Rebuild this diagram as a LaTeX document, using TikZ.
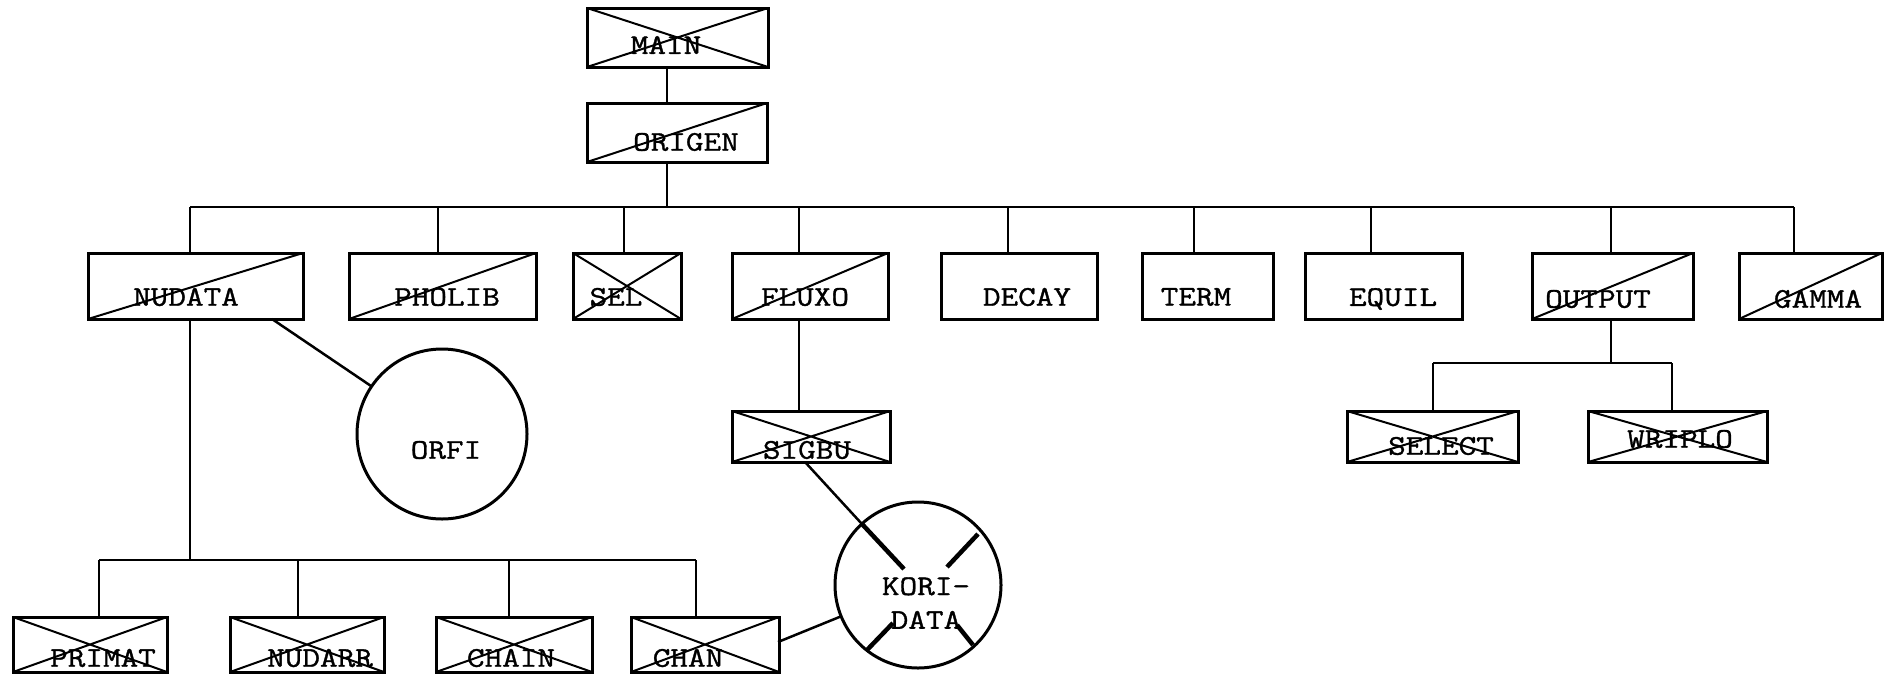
\documentclass[tikz,border=0pt]{standalone}
\usepackage{fontspec}
\usetikzlibrary{calc}
\newfontfamily\tw[FakeStretch=1.2,FakeBold=1.2]{Latin Modern Mono}
\begin{document}
\begin{tikzpicture}[x=0.4pt,y=-0.4pt,
  box/.style 2 args={draw, line width=1.2pt, minimum width=#1*0.4pt, minimum height=#2*0.4pt, inner sep=0pt, outer sep=0pt},
  one/.style={path picture={\draw[line width=0.8pt] (path picture bounding box.south west) -- (path picture bounding box.north east);}},
  cross/.style={path picture={\draw[line width=0.8pt] (path picture bounding box.south west) -- (path picture bounding box.north east) (path picture bounding box.north west) -- (path picture bounding box.south east);}},
  circ/.style={circle, draw, line width=1.2pt, minimum size=#1*0.4pt, inner sep=0pt, outer sep=0pt},
  lbl/.style={font=\tw\fontsize{11.4}{13.5}\selectfont, inner sep=0pt, align=center},
  wire/.style={line width=1pt},
  xmark/.style={line width=1.8pt}]
\useasboundingbox (0,0) rectangle (1890,674);
% top
\node[box={181}{59},cross] (main) at (677.5,37.5) {};
\node[lbl] (mainT) at (666,45) {MAIN};
\node[box={180}{59},one] (origen) at (677,132.5) {};
\node[lbl] (origenT) at (686,142) {ORIGEN};
% row 2
\node[box={215}{66},one] (nudata) at (195.5,286) {};
\node[lbl] at (186,297) {NUDATA};
\node[box={187}{66},one] (pholib) at (442.5,286) {};
\node[lbl] at (447,297) {PHOLIB};
\node[box={108}{66},cross] (sel) at (627,286) {};
\node[lbl] at (616,297) {SEL};
\node[box={156}{66},one] (fluxo) at (810,286) {};
\node[lbl] at (805,297) {FLUXO};
\node[box={156}{66}] (decay) at (1019,286) {};
\node[lbl] at (1027,297) {DECAY};
\node[box={131}{66}] (term) at (1207.5,286) {};
\node[lbl] at (1196,297) {TERM};
\node[box={157}{66}] (equil) at (1383.5,286) {};
\node[lbl] at (1393,299) {EQUIL};
\node[box={161}{66},one] (output) at (1612.5,286) {};
\node[lbl] at (1598,299) {OUTPUT};
\node[box={143}{66},one] (gamma) at (1810.5,286) {};
\node[lbl] at (1818,299) {GAMMA};
% row 3
\node[box={158}{51},cross] (sigbu) at (811,436.5) {};
\node[lbl] at (807,450) {SIGBU};
\node[box={171}{51},cross] (select) at (1432.5,436.5) {};
\node[lbl] at (1441,446) {SELECT};
\node[box={179}{51},cross] (wriplo) at (1677.5,436.5) {};
\node[lbl] at (1680,439) {WRIPLO};
% circles
\node[circ=170] (orfi) at (442,434) {};
\node[lbl] at (446,450) {ORFI};
\node[circ=166] (kori) at (918,585) {};
\node[lbl] at (926,603) {KORI-\\DATA};
% bottom row
\node[box={154}{55},cross] (primat) at (90,644.5) {};
\node[lbl] at (103,658) {PRIMAT};
\node[box={154}{55},cross] (nudarr) at (307,644.5) {};
\node[lbl] at (320,658) {NUDARR};
\node[box={156}{55},cross] (chain) at (514,644.5) {};
\node[lbl] at (511,658) {CHAIN};
\node[box={148}{55},cross] (chan) at (705,644.5) {};
\node[lbl] at (688,658) {CHAN};
% coordinates
\coordinate (s0) at (667,207);
\coordinate (s1) at (190,207);
\coordinate (s2) at (438,207);
\coordinate (s3) at (624,207);
\coordinate (s4) at (799,207);
\coordinate (s5) at (1008,207);
\coordinate (s6) at (1194,207);
\coordinate (s7) at (1371,207);
\coordinate (s8) at (1611,207);
\coordinate (s9) at (1794,207);
\coordinate (o0) at (1611,363);
\coordinate (o1) at (1433,363);
\coordinate (o2) at (1672,363);
\coordinate (c0) at (190,560);
\coordinate (t1) at (99,560);
\coordinate (t2) at (298,560);
\coordinate (t3) at (509,560);
\coordinate (t4) at (696,560);
\coordinate (n1) at (272,319);
\coordinate (sg) at (805,462);
\coordinate (ch) at (778,642);
% connectors
\draw[wire] (main.south -| s0) -- (origen.north -| s0);
\draw[wire] (origen.south -| s0) -- (s0);
\draw[wire] (s1) -- (s9);
\foreach \n/\s in {nudata/s1,pholib/s2,sel/s3,fluxo/s4,decay/s5,term/s6,equil/s7,output/s8,gamma/s9}
  \draw[wire] (\s) -- (\n.north -| \s);
\draw[wire] (output.south -| o0) -- (o0);
\draw[wire] (o1) -- (o2);
\draw[wire] (o1) -- (select.north -| o1);
\draw[wire] (o2) -- (wriplo.north -| o2);
\draw[wire] (fluxo.south -| s4) -- (sigbu.north -| s4);
\draw[wire] (n1) -- (orfi);
\draw[wire] (nudata.south -| c0) -- (c0);
\draw[wire] (t1) -- (t4);
\draw[wire] (t1) -- (primat.north -| t1);
\draw[wire] (t2) -- (nudarr.north -| t2);
\draw[wire] (t3) -- (chain.north -| t3);
\draw[wire] (t4) -- (chan.north -| t4);
\draw[wire] (sg) -- (kori);
\draw[wire] (ch) -- (kori);
% X marks inside KORI-DATA
\draw[xmark] ($(kori)+(-56,-61)$) -- ($(kori)+(-14,-16)$);
\draw[xmark] ($(kori)+(60,-51)$) -- ($(kori)+(29,-18)$);
\draw[xmark] ($(kori)+(-25,38)$) -- ($(kori)+(-51,65)$);
\draw[xmark] ($(kori)+(39,40)$) -- ($(kori)+(55,60)$);
\end{tikzpicture}
\end{document}
